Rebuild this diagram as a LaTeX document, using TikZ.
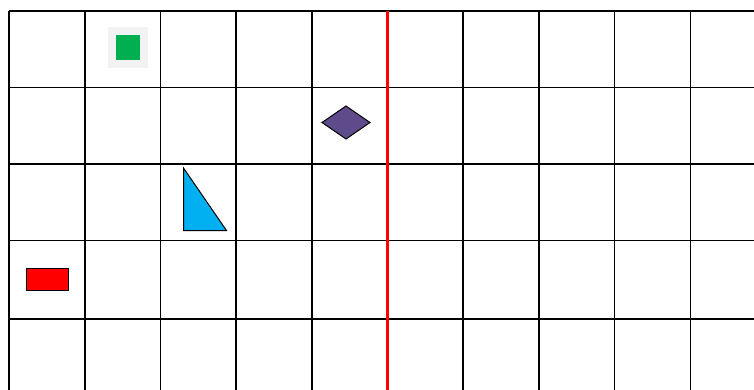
\documentclass[tikz,border=0pt]{standalone}
\usepackage{tikz}
\usetikzlibrary{positioning}
\definecolor{gridink}{HTML}{000000}
\definecolor{padgray}{HTML}{F2F2F2}
\definecolor{tokgreen}{HTML}{00B050}
\definecolor{tokviolet}{HTML}{5F4B8B}
\definecolor{tokcyan}{HTML}{00B0F0}
\definecolor{tokred}{HTML}{FF0000}
\tikzset{
  gl/.style={draw=gridink, line width=1.6pt},
  axis/.style={draw=tokred, line width=3pt},
  shp/.style={draw=black, line width=1pt, line join=miter},
}
\begin{document}
\begin{tikzpicture}[x=1pt, y=-1pt]
    \useasboundingbox (0,0) rectangle (754,389);
    \begin{scope}
    \clip (0,0) rectangle (754,389);
    \foreach \gx in {9,84.7,160.4,236.1,311.8,463.2,538.9,614.6,690.3}
      \draw[gl] (\gx,11) -- (\gx,400);
    \foreach \gy in {11,87.5,164,240.5,319}
      \draw[gl] (9,\gy) -- (760,\gy);
    \draw[axis] (387.5,11) -- (387.5,400);
    \end{scope}
    % tokens
    \fill[padgray] (108,27) rectangle (148,68);
    \fill[tokgreen] (116,35) rectangle (140,60);
    \draw[shp, fill=tokviolet] (322,122.5) -- (346,106) -- (370,122.5) -- (346,139) -- cycle;
    \draw[shp, fill=tokcyan] (183.5,168) -- (226.5,230.5) -- (183.5,230.5) -- cycle;
    \draw[shp, fill=tokred] (26,268) rectangle (68,290.5);
\end{tikzpicture}
\end{document}
